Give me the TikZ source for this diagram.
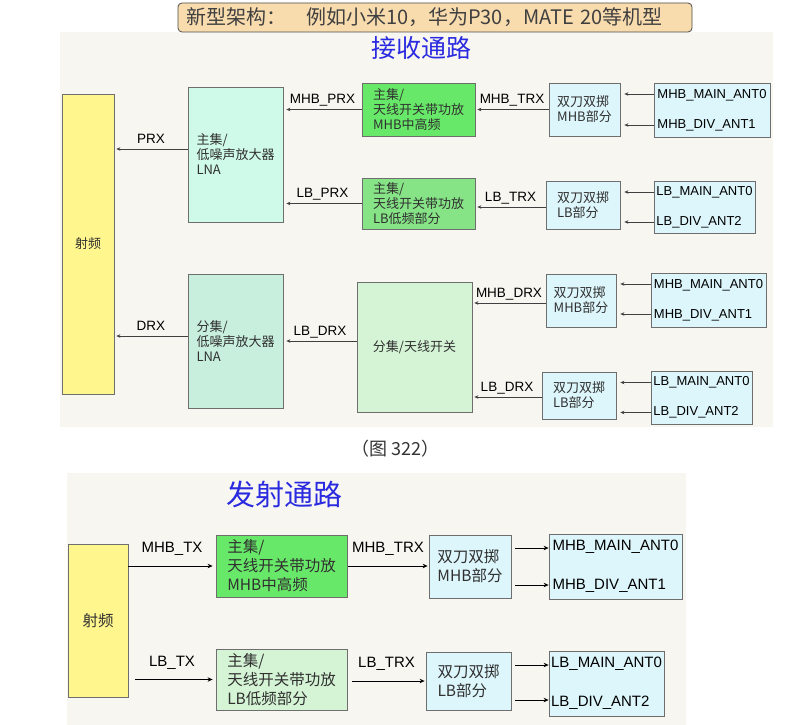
\documentclass[tikz,border=0pt]{standalone}
\usepackage{fontspec}
\setmainfont{Liberation Sans}
\newfontfamily\cjk{Noto Sans CJK SC}
\usetikzlibrary{arrows.meta}

\definecolor{bgcream}{HTML}{F8F6F0}
\definecolor{headfill}{HTML}{F9DCAE}
\definecolor{rfyellow}{HTML}{FFF68E}
\definecolor{lnamain}{HTML}{CFF9E9}
\definecolor{lnadiv}{HTML}{C8EFDD}
\definecolor{pahigh}{HTML}{68E868}
\definecolor{palow}{HTML}{86E386}
\definecolor{palight}{HTML}{D5F4D5}
\definecolor{dpdtcyan}{HTML}{DDF6FB}
\definecolor{boxline}{HTML}{6E6E6E}
\definecolor{boxtext}{HTML}{303030}
\definecolor{pathblue}{HTML}{2A2AE0}

\begin{document}
\begin{tikzpicture}[x=1pt, y=-1pt,
    box/.style={draw=boxline, line width=0.8pt, inner sep=0pt, align=left,
        text=boxtext, font=\cjk\fontsize{13}{15}\selectfont},
    bigbox/.style={box, font=\cjk\fontsize{15.5}{19}\selectfont},
    antbox/.style={draw=boxline, line width=0.8pt, inner sep=0pt, align=left,
        fill=dpdtcyan, text=black, font=\fontsize{13}{30}\selectfont},
    bigantbox/.style={antbox, font=\fontsize{15}{39}\selectfont},
    rx/.style={draw=black!75, line width=0.6pt, -{Stealth[length=4pt, width=3.5pt]}},
    tx/.style={draw=black, line width=1pt, -{Stealth[length=5pt, width=4.5pt]}},
    lbl/.style={anchor=south, inner sep=0pt, text depth=0pt, yshift=5.5pt,
        font=\fontsize{13.5}{15}\selectfont},
    biglbl/.style={lbl, yshift=7.5pt, font=\fontsize{15}{18}\selectfont}
]
    \useasboundingbox[fill=white] (0,0) rectangle (811,725);
    % panels
    \fill[bgcream] (60,32) rectangle (773,427);
    \fill[bgcream] (67,473) rectangle (686,725);

    \node[draw=black!70, line width=0.8pt, fill=headfill, rounded corners=4pt,
        minimum width=514pt, minimum height=29pt, text width=498pt, align=left,
        inner xsep=8pt, text=black!75,
        font=\cjk\fontsize{20}{22}\selectfont] (head) at (435,17.5)
        {新型架构：\hspace{1em}例如小米10，华为P30，MATE 20等机型};
    \node[text=pathblue, font=\cjk\fontsize{25}{28}\selectfont] (rxtitle) at (421,48) {接收通路};

    % receive path, main
    \node[box, fill=rfyellow, minimum width=52pt, minimum height=300pt] (rfR) at (88,244) {射频};
    \node[box, fill=lnamain, minimum width=95pt, minimum height=135pt] (lnaM) at (235.5,154.5) {主集/\\低噪声放大器\\LNA};
    \node[box, fill=pahigh, minimum width=113pt, minimum height=53pt] (paM) at (418.5,109.5) {主集/\\天线开关带功放\\MHB中高频};
    \node[box, fill=palow, minimum width=113pt, minimum height=51pt] (paL) at (418.5,203.5) {主集/\\天线开关带功放\\LB低频部分};
    \node[box, fill=dpdtcyan, minimum width=71pt, minimum height=53pt] (dpM) at (584.5,109.5) {双刀双掷\\MHB部分};
    \node[box, fill=dpdtcyan, minimum width=74pt, minimum height=48pt] (dpL) at (583,205) {双刀双掷\\LB部分};
    \node[antbox, minimum width=116pt, minimum height=54pt] (antM) at (712,110) {MHB\_MAIN\_ANT0\\MHB\_DIV\_ANT1};
    \node[antbox, minimum width=101pt, minimum height=52pt] (antL) at (704.5,207) {LB\_MAIN\_ANT0\\LB\_DIV\_ANT2};

    \draw[rx, shorten >=2pt] ([yshift=5.5pt]lnaM.west) -- node[lbl] {PRX} ([yshift=5.5pt]lnaM.west -| rfR.east);
    \draw[rx, shorten >=3pt] (paM.west) -- node[lbl] {MHB\_PRX} (paM.west -| lnaM.east);
    \draw[rx, shorten >=3pt] (paL.west) -- node[lbl] {LB\_PRX} (paL.west -| lnaM.east);
    \draw[rx, shorten >=2pt] (dpM.west) -- node[lbl] {MHB\_TRX} (dpM.west -| paM.east);
    \draw[rx, shorten >=2pt] ([yshift=-2pt]dpL.west) -- node[lbl] {LB\_TRX} ([yshift=-2pt]dpL.west -| paL.east);
    \draw[rx, shorten >=4pt] ([yshift=16pt]antM.west) -- ([yshift=16pt]antM.west -| dpM.east);
    \draw[rx, shorten >=4pt] ([yshift=-15pt]antM.west) -- ([yshift=-15pt]antM.west -| dpM.east);
    \draw[rx, shorten >=4pt] ([yshift=15pt]antL.west) -- ([yshift=15pt]antL.west -| dpL.east);
    \draw[rx, shorten >=4pt] ([yshift=-15pt]antL.west) -- ([yshift=-15pt]antL.west -| dpL.east);

    % receive path, diversity
    \node[box, fill=lnadiv, minimum width=95pt, minimum height=134pt] (lnaD) at (235.5,341) {分集/\\低噪声放大器\\LNA};
    \node[box, fill=palight, minimum width=115pt, minimum height=130pt] (swD) at (414.5,347) {分集/天线开关};
    \node[box, fill=dpdtcyan, minimum width=70pt, minimum height=53pt] (dpMD) at (581,300.5) {双刀双掷\\MHB部分};
    \node[box, fill=dpdtcyan, minimum width=74pt, minimum height=47pt] (dpLD) at (579,395.5) {双刀双掷\\LB部分};
    \node[antbox, minimum width=115pt, minimum height=54pt] (antMD) at (708.5,300) {MHB\_MAIN\_ANT0\\MHB\_DIV\_ANT1};
    \node[antbox, minimum width=101pt, minimum height=53pt] (antLD) at (701.5,397.5) {LB\_MAIN\_ANT0\\LB\_DIV\_ANT2};

    \draw[rx, shorten >=2pt] ([yshift=5pt]lnaD.west) -- node[lbl] {DRX} ([yshift=5pt]lnaD.west -| rfR.east);
    \draw[rx, shorten >=3pt] ([yshift=6pt]swD.west) -- node[lbl] {LB\_DRX} ([yshift=6pt]swD.west -| lnaD.east);
    \draw[rx, shorten >=2pt] ([yshift=-2.5pt]dpMD.west) -- node[lbl] {MHB\_DRX} ([yshift=-2.5pt]dpMD.west -| swD.east);
    \draw[rx, shorten >=2pt] ([yshift=-1.5pt]dpLD.west) -- node[lbl] {LB\_DRX} ([yshift=-1.5pt]dpLD.west -| swD.east);
    \draw[rx, shorten >=4pt] ([yshift=16pt]antMD.west) -- ([yshift=16pt]antMD.west -| dpMD.east);
    \draw[rx, shorten >=4pt] ([yshift=-14pt]antMD.west) -- ([yshift=-14pt]antMD.west -| dpMD.east);
    \draw[rx, shorten >=4pt] ([yshift=15pt]antLD.west) -- ([yshift=15pt]antLD.west -| dpLD.east);
    \draw[rx, shorten >=4pt] ([yshift=-15pt]antLD.west) -- ([yshift=-15pt]antLD.west -| dpLD.east);

    \node[text=black!80, font=\cjk\fontsize{18}{20}\selectfont] (cap) at (395,449) {（图 322）};

    % transmit path
    \node[text=pathblue, font=\cjk\fontsize{29}{32}\selectfont] (txtitle) at (284,494) {发射通路};
    \node[bigbox, fill=rfyellow, minimum width=60pt, minimum height=153pt] (rfT) at (98,620.5) {射频};
    \node[bigbox, fill=pahigh, minimum width=131pt, minimum height=62pt] (paMT) at (281.5,566) {主集/\\天线开关带功放\\MHB中高频};
    \node[bigbox, fill=palight, minimum width=131pt, minimum height=61pt] (paLT) at (281.5,679.5) {主集/\\天线开关带功放\\LB低频部分};
    \node[bigbox, fill=dpdtcyan, minimum width=82pt, minimum height=63pt] (dpMT) at (470,566.5) {双刀双掷\\MHB部分};
    \node[bigbox, fill=dpdtcyan, minimum width=85pt, minimum height=58pt] (dpLT) at (468.5,681) {双刀双掷\\LB部分};
    \node[bigantbox, minimum width=133pt, minimum height=65pt] (antMT) at (615.5,566.5) {MHB\_MAIN\_ANT0\\MHB\_DIV\_ANT1};
    \node[bigantbox, minimum width=115pt, minimum height=65pt] (antLT) at (606.5,683.5) {LB\_MAIN\_ANT0\\LB\_DIV\_ANT2};

    \draw[tx, shorten >=3pt] (paMT.west -| rfT.east) -- node[biglbl] {MHB\_TX} (paMT.west);
    \draw[tx, shorten >=3pt, shorten <=7pt] (paLT.west -| rfT.east) -- node[biglbl] {LB\_TX} (paLT.west);
    \draw[tx, shorten >=1pt, shorten <=1pt] (paMT.east) -- node[biglbl] {MHB\_TRX} (paMT.east -| dpMT.west);
    \draw[tx, shorten >=1pt, shorten <=5pt] (dpLT.west -| paLT.east) -- node[biglbl] {LB\_TRX} (dpLT.west);
    \draw[tx, shorten <=4pt] ([yshift=18.5pt]antMT.west -| dpMT.east) -- ([yshift=18.5pt]antMT.west);
    \draw[tx, shorten <=4pt] ([yshift=-18.5pt]antMT.west -| dpMT.east) -- ([yshift=-18.5pt]antMT.west);
    \draw[tx, shorten <=4pt] ([yshift=18.5pt]antLT.west -| dpLT.east) -- ([yshift=18.5pt]antLT.west);
    \draw[tx, shorten <=4pt] ([yshift=-16.5pt]antLT.west -| dpLT.east) -- ([yshift=-16.5pt]antLT.west);
\end{tikzpicture}
\end{document}
